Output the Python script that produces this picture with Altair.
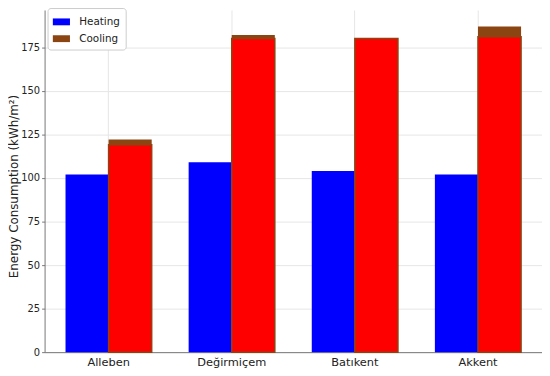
import altair as alt
import pandas as pd

locations = ["Alleben", "Değirmiçem", "Batıkent", "Akkent"]
series = ["Heating", "Cooling"]
heating = [102, 109, 104, 102]
cooling = [122, 182, 180, 187]
cooling_inner = [119, 180, 180, 181]
y_ticks = [0, 25, 50, 75, 100, 125, 150, 175]

rows = []
for loc, h, c in zip(locations, heating, cooling):
    rows.append({"location": loc, "series": "Heating", "value": h})
    rows.append({"location": loc, "series": "Cooling", "value": c})
df = pd.DataFrame(rows)
df_inner = pd.DataFrame({"location": locations, "series": ["Cooling"] * 4, "value": cooling_inner})

FONT = "DejaVu Sans"

x_enc = alt.X(
    "location:N", sort=locations,
    scale=alt.Scale(paddingInner=0.3, paddingOuter=0.17),
    axis=alt.Axis(title=None, labelAngle=0, grid=True, bandPosition=0.5, ticks=False,
                  labelFontSize=11.5, labelFont=FONT, labelColor="#222", labelPadding=4,
                  domainColor="#777", gridColor="#e6e6e6"),
)
xo_enc = alt.XOffset("series:N", sort=series, scale=alt.Scale(paddingInner=0, paddingOuter=0))
y_enc = alt.Y(
    "value:Q",
    scale=alt.Scale(domain=[0, 196.4], nice=False, zero=True),
    axis=alt.Axis(values=y_ticks, title="Energy Consumption (kWh/m²)", titleFont=FONT,
                  titleFontSize=12, titleFontWeight="normal", titleColor="#222",
                  titleX=-31, titleY=178, titleBaseline="middle", titleAlign="center", titleAngle=270,
                  labelFont=FONT, labelFontSize=10, labelColor="#222", tickSize=3,
                  tickColor="#777", domainColor="#777", gridColor="#e6e6e6", labelPadding=2),
)

bars = alt.Chart(df).mark_bar().encode(
    x=x_enc, xOffset=xo_enc, y=y_enc,
    color=alt.Color(
        "series:N",
        scale=alt.Scale(domain=series, range=["#0000ff", "#8b4513"]),
        legend=alt.Legend(
            title=None, orient="none", legendX=3, legendY=-2,
            symbolType="M-1,-0.4L1,-0.4L1,0.4L-1,0.4Z", symbolSize=300, symbolStrokeWidth=0,
            labelFont=FONT, labelFontSize=10.5, labelColor="#222",
            fillColor="white", strokeColor="#cccccc", cornerRadius=3, padding=5,
            rowPadding=2, labelOffset=9,
        ),
    ),
)

inner = alt.Chart(df_inner).mark_bar(color="#ff0000", stroke="#8b4513", strokeWidth=1.5).encode(
    x=x_enc, xOffset=xo_enc, y=y_enc,
)

chart = alt.layer(bars, inner).properties(
    width=503, height=346,
    autosize=alt.AutoSizeParams(type="none"),
    padding={"left": 37, "top": 0, "right": 0, "bottom": 14},
    background="white",
).configure_view(stroke=None)

chart.save("out.html", embed_options={"renderer": "svg", "actions": False})
